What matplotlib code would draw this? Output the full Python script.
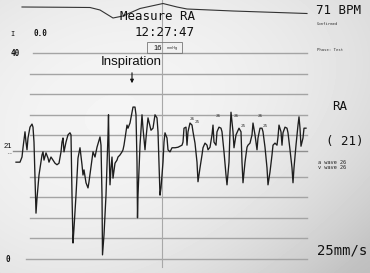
import numpy as np
import matplotlib
matplotlib.use("Agg")
import matplotlib.pyplot as plt

# ---- RA pressure trace (time in s, pressure in mmHg) ----
t_ra = [0.00, 0.08, 0.12, 0.14, 0.18, 0.20, 0.22, 0.24, 0.28, 0.32, 0.34, 0.36, 0.38, 0.40,
        0.42, 0.46, 0.52, 0.54, 0.56, 0.60, 0.64, 0.66, 0.70, 0.74, 0.78, 0.82, 0.86, 0.90,
        0.92, 0.94, 0.96, 1.00, 1.04, 1.08, 1.10, 1.12, 1.14, 1.16, 1.20, 1.24, 1.28, 1.32,
        1.34, 1.36, 1.40, 1.44, 1.46, 1.50, 1.54, 1.58, 1.62, 1.68, 1.70, 1.72, 1.73, 1.76,
        1.80, 1.84, 1.85, 1.86, 1.88, 1.90, 1.92, 1.94, 1.98, 2.02, 2.04, 2.08, 2.12, 2.14,
        2.16, 2.20, 2.22, 2.24, 2.28, 2.32, 2.34, 2.38, 2.40, 2.42, 2.43, 2.44, 2.48, 2.52,
        2.54, 2.58, 2.60, 2.64, 2.66, 2.70, 2.74, 2.78, 2.82, 2.84, 2.86, 2.88, 2.90, 2.94,
        2.96, 2.98, 3.02, 3.04, 3.08, 3.12, 3.18, 3.24, 3.32, 3.34, 3.36, 3.40, 3.42, 3.44,
        3.48, 3.52, 3.54, 3.58, 3.62, 3.64, 3.68, 3.72, 3.74, 3.78, 3.82, 3.84, 3.88, 3.92,
        3.94, 3.96, 4.00, 4.02, 4.06, 4.10, 4.12, 4.16, 4.20, 4.22, 4.26, 4.28, 4.30, 4.32,
        4.34, 4.36, 4.40, 4.44, 4.46, 4.50, 4.52, 4.54, 4.58, 4.62, 4.64, 4.68, 4.72, 4.74,
        4.78, 4.82, 4.84, 4.88, 4.92, 4.94, 4.98, 5.02, 5.04, 5.08, 5.12, 5.14, 5.18, 5.22,
        5.24, 5.26, 5.30, 5.32, 5.34, 5.38, 5.42, 5.44, 5.48, 5.52, 5.54, 5.56, 5.60, 5.64,
        5.66, 5.68, 5.70, 5.74, 5.76, 5.80]
p_ra = [18.8, 18.8, 19.8, 21.6, 24.7, 22.7, 21.2, 23.5, 25.6, 26.2, 25.6, 22.7, 15.7, 8.9,
        11.8, 16.3, 20.2, 20.8, 19.2, 20.6, 19.6, 18.8, 19.8, 19.2, 18.6, 18.3, 18.6, 20.8,
        22.7, 23.5, 20.8, 22.7, 24.1, 24.5, 24.1, 12.4, 3.1, 6.0, 12.4, 19.6, 21.6, 18.3,
        16.3, 17.3, 14.8, 13.8, 15.0, 17.9, 20.8, 19.8, 21.7, 23.7, 22.1, 12.4, 0.8, 4.7,
        12.4, 24.1, 28.0, 21.6, 14.4, 17.7, 19.8, 15.7, 18.6, 19.2, 19.8, 20.2, 20.8, 21.2,
        22.1, 24.7, 26.0, 25.4, 26.4, 28.5, 29.5, 29.5, 28.0, 18.8, 8.0, 12.4, 22.1, 28.0,
        25.4, 21.2, 23.5, 27.4, 26.6, 25.0, 25.4, 28.0, 27.4, 24.7, 18.8, 12.4, 13.8, 18.8,
        22.7, 24.5, 23.5, 21.2, 20.8, 21.6, 21.6, 21.7, 22.1, 22.7, 25.4, 25.6, 22.1, 24.7,
        26.4, 26.0, 24.7, 22.5, 18.8, 15.0, 17.7, 20.2, 21.6, 22.5, 22.1, 21.2, 21.7, 24.1,
        26.0, 22.7, 22.1, 24.7, 25.6, 25.4, 24.7, 20.8, 16.3, 14.4, 18.8, 24.7, 28.5, 26.6,
        24.7, 21.6, 24.1, 25.0, 25.4, 24.7, 18.8, 14.8, 18.8, 21.7, 22.1, 22.5, 24.1, 26.4,
        24.1, 21.2, 23.5, 25.4, 25.4, 24.7, 21.7, 17.7, 14.4, 16.9, 20.2, 22.1, 22.5, 22.1,
        23.7, 26.0, 24.7, 22.1, 24.5, 25.6, 25.4, 24.5, 21.2, 17.7, 14.8, 17.7, 22.1, 26.0,
        27.6, 25.4, 21.9, 23.5, 25.4, 25.4]

# ---- respiration trace (arbitrary units) ----
t_resp = [0.12, 1.02, 1.48, 1.68, 1.94, 2.14, 2.48, 2.94, 3.22, 3.42, 4.34, 5.82]
a_resp = [0.0, -0.3, -0.5, -3.0, -11.0, -9.0, -1.5, 3.5, 0.0, -2.0, -4.0, -6.5]

# ---- scale grid and labels ----
grid_levels = [0, 4, 8, 12, 16, 24, 28, 32, 36, 40]
mean_level = 21
peak_t = [3.48, 3.58, 4.00, 4.36, 4.50, 4.84, 4.94]
peak_p = [26.8, 26.2, 27.4, 27.4, 25.4, 27.4, 25.4]
peak_lbl = ['26', '25', '26', '26', '25', '26', '25']

W, H = 370, 273
fig = plt.figure(figsize=(W / 100, H / 100), dpi=100)

# background: photographed paper, lighter at the left, grey toward bottom-right
bg = fig.add_axes([0, 0, 1, 1])
yy, xx = np.mgrid[0:H, 0:W]
d = np.sqrt(((xx - 140) / 280.0) ** 2 + ((yy - 130) / 210.0) ** 2)
corner = np.clip((xx / W) * (yy / H), 0, 1)
shade = 0.965 - 0.10 * np.clip(d, 0, 1) ** 2 - 0.12 * corner ** 1.5
bg.imshow(shade, cmap='gray', vmin=0, vmax=1, aspect='auto', extent=[0, W, H, 0])
bg.axis('off')

ax = fig.add_axes([0, 0, 1, 1])
ax.patch.set_alpha(0)
ax.set_xlim(-0.32, 7.08)
ax.set_ylim(-2.72, 50.29)
ax.axis('off')

gcol = '#a4a4a4'
for lv in grid_levels:
    x0 = 0.20 if lv == 0 else (0.34 if lv == 40 else 0.28)
    ax.plot([x0, 5.82], [lv, lv], color=gcol, lw=1.0, zorder=1)
ax.plot([-0.06, 5.82], [mean_level, mean_level], color='#8e8e8e', lw=1.0, zorder=1)
ax.plot([2.92, 2.92], [-1.6, 50.3], color='#a8a8a8', lw=0.8, zorder=1)

ax.plot(t_ra, p_ra, color='#1e1e1e', lw=0.95, zorder=3)

for tt, pp, s in zip(peak_t, peak_p, peak_lbl):
    ax.text(tt, pp, s, fontsize=3.2, color='#333333', ha='left', va='bottom',
            family='DejaVu Sans Mono', zorder=4)

# respiration strip on top
axr = fig.add_axes([0, 1 - 25 / H, 1, 25 / H])
axr.patch.set_alpha(0)
axr.set_xlim(-0.32, 7.08)
axr.set_ylim(-18, 7)
axr.axis('off')
axr.plot(t_resp, a_resp, color='#333333', lw=0.8)


def px(x, y):
    return x / W, 1 - y / H


mono = 'DejaVu Sans Mono'
tc = '#111111'
fig.text(*px(158, 16), 'Measure RA', fontsize=9, family=mono, ha='center', va='center', color=tc)
fig.text(*px(165, 33), '12:27:47', fontsize=9, family=mono, ha='center', va='center', color=tc)
fig.text(*px(158, 48), '16', fontsize=5.5, family='Liberation Sans', ha='center', va='center', color=tc)
fig.text(*px(172, 48.5), 'mmHg', fontsize=2.8, family='Liberation Sans', ha='center', va='center', color='#333333')
fig.add_artist(plt.Rectangle(px(147, 53), 35 / W, 11 / H, fill=False, ec='#777777', lw=0.6))

fig.text(*px(12, 34), 'I', fontsize=5, family=mono, ha='center', va='center', color=tc)
fig.text(*px(40, 34), '0.0', fontsize=5.5, family=mono, ha='center', va='center', color=tc, weight='bold')
fig.text(*px(15, 53), '40', fontsize=5.5, family=mono, ha='center', va='center', color=tc, weight='bold')
fig.text(*px(8, 147), '21', fontsize=5.5, family='Liberation Sans', ha='center', va='center', color=tc)
fig.text(*px(9, 154), '--', fontsize=4, family=mono, ha='center', va='center', color='#444444')
fig.text(*px(8, 259), '0', fontsize=5.5, family=mono, ha='center', va='center', color=tc, weight='bold')

fig.text(*px(131, 62), 'Inspiration', fontsize=9.5, family='Liberation Sans', ha='center', va='center', color=tc)
ax.annotate('', xy=px(132, 86), xytext=px(132, 70), xycoords='figure fraction',
            textcoords='figure fraction',
            arrowprops=dict(arrowstyle='-|>', lw=0.8, color=tc, mutation_scale=5))

fig.text(*px(339, 10), '71 BPM', fontsize=9, family=mono, ha='center', va='center', color=tc)
fig.text(*px(317, 24), 'Confirmed', fontsize=2.8, family=mono, ha='left', va='center', color='#333333')
fig.text(*px(317, 50), 'Phase: Test', fontsize=2.8, family=mono, ha='left', va='center', color='#333333')
fig.text(*px(340, 107), 'RA', fontsize=9, family=mono, ha='center', va='center', color=tc)
fig.text(*px(345, 142), '( 21)', fontsize=9, family=mono, ha='center', va='center', color=tc)
fig.text(*px(318, 162), 'a wave 26', fontsize=3.8, family=mono, ha='left', va='center', color='#222222')
fig.text(*px(318, 167.5), 'v wave 26', fontsize=3.8, family=mono, ha='left', va='center', color='#222222')
fig.text(*px(342, 251), '25mm/s', fontsize=10, family=mono, ha='center', va='center', color=tc)

fig.savefig('out.png', dpi=100)
